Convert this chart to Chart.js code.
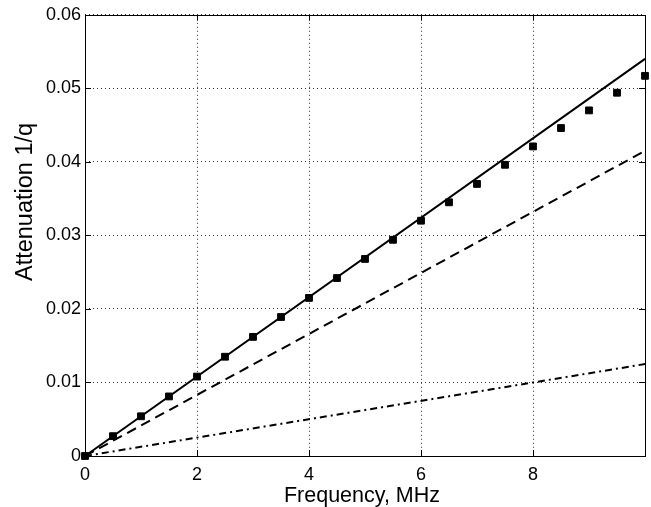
<!DOCTYPE html>
<html><head><meta charset="utf-8">
<script src="https://cdn.jsdelivr.net/npm/chart.js@4"></script>
<style>html,body{margin:0;padding:0;background:#fff}#wrap{width:651px;height:507px}</style>
</head><body><div id="wrap"><canvas id="c" width="651" height="507"></canvas></div>
<script>
const freq = [0,0.5,1,1.5,2,2.5,3,3.5,4,4.5,5,5.5,6,6.5,7,7.5,8,8.5,9,9.5,10];
const measured = [0,0.0027,0.0054,0.0081,0.0108,0.0135,0.0162,0.0189,0.0215,0.0242,0.0268,0.0294,0.0320,0.0345,0.0370,0.0396,0.0421,0.0446,0.0470,0.0494,0.0517];
const lineX = [0, 10];
const solidY = [0, 0.054];
const dashedY = [0, 0.0415];
const dashDotY = [0, 0.0125];
const xTicks = [0,2,4,6,8];
const xTickLabels = ['0','2','4','6','8'];
const yTicks = [0,0.01,0.02,0.03,0.04,0.05,0.06];
const yTickLabels = ['0','0.01','0.02','0.03','0.04','0.05','0.06'];
const xTitle = 'Frequency, MHz';
const yTitle = 'Attenuation 1/q';

const pts = (xs, ys) => xs.map((x,i)=>({x, y: ys[i]}));
const FONT = '"Liberation Sans", Arial, Helvetica, sans-serif';

const boxPlugin = {
  id: 'box',
  afterDatasetsDraw(chart){
    const {ctx, chartArea:{left,right,top,bottom}, scales:{x,y}} = chart;
    ctx.save();
    ctx.strokeStyle = '#000';
    ctx.lineWidth = 1;
    ctx.setLineDash([]);
    const L = 6;
    ctx.beginPath();
    xTicks.forEach(v=>{
      const px = Math.round(x.getPixelForValue(v)) + 0.5;
      ctx.moveTo(px, bottom); ctx.lineTo(px, bottom - L);
      ctx.moveTo(px, top); ctx.lineTo(px, top + L);
    });
    yTicks.forEach(v=>{
      const py = Math.round(y.getPixelForValue(v)) + 0.5;
      ctx.moveTo(left, py); ctx.lineTo(left + L, py);
      ctx.moveTo(right, py); ctx.lineTo(right - L, py);
    });
    ctx.stroke();
    ctx.strokeRect(Math.round(left)+0.5, Math.round(top)+0.5, Math.round(right-left), Math.round(bottom-top));
    // axis titles
    ctx.fillStyle = '#000';
    ctx.textAlign = 'center';
    ctx.textBaseline = 'alphabetic';
    ctx.font = '21.5px ' + FONT;
    ctx.fillText(xTitle, 362, 502);
    ctx.translate(32, 202);
    ctx.rotate(-Math.PI/2);
    ctx.font = '23.5px ' + FONT;
    ctx.fillText(yTitle, 0, 0);
    ctx.restore();
  }
};

new Chart(document.getElementById('c'), {
  type: 'scatter',
  data: {
    datasets: [
      { data: pts(lineX, solidY), showLine: true, borderColor:'#000', borderWidth:2, pointRadius:0, clip:false },
      { data: pts(lineX, dashedY), showLine: true, borderColor:'#000', borderWidth:2, borderDash:[10,6], pointRadius:0, clip:false },
      { data: pts(lineX, dashDotY), showLine: true, borderColor:'#000', borderWidth:2, borderDash:[7,4,2,4], pointRadius:0, clip:false },
      { data: pts(freq, measured), showLine:false, pointStyle:'rect', pointRadius:4.8, borderWidth:1, borderColor:'#000', backgroundColor:'#000', clip:false }
    ]
  },
  options: {
    responsive: false,
    animation: false,
    layout: { padding: { top: 13, right: 6, left: 0, bottom: 0 } },
    plugins: { legend: { display:false }, tooltip: { enabled:false } },
    scales: {
      x: {
        type:'linear', min:0, max:10,
        afterBuildTicks: s => { s.ticks = xTicks.map(v=>({value:v})); },
        afterFit: s => { s.height = 51; },
        ticks: { callback: (v,i) => xTickLabels[i], color:'#000', font:{family:FONT, size:18}, padding:8, maxRotation:0, autoSkip:false },
        grid: { color:'#333', lineWidth:1, drawTicks:false },
        border: { display:false, dash:[1,3] },
        title: { display:false }
      },
      y: {
        type:'linear', min:0, max:0.06,
        afterBuildTicks: s => { s.ticks = yTicks.map(v=>({value:v})); },
        afterFit: s => { s.width = 85; },
        ticks: { callback: (v,i) => yTickLabels[i], color:'#000', font:{family:FONT, size:18}, padding:4, autoSkip:false },
        grid: { color:'#333', lineWidth:1, drawTicks:false },
        border: { display:false, dash:[1,3] },
        title: { display:false }
      }
    }
  },
  plugins: [boxPlugin]
});
</script>
</body></html>
